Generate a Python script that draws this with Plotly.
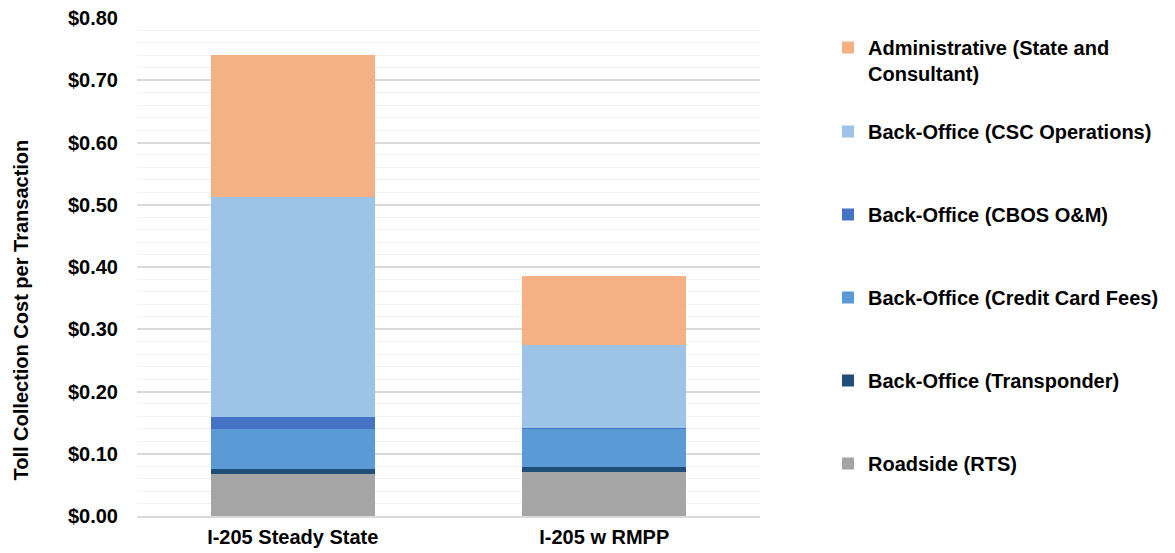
import plotly.graph_objects as go

# Cost per transaction by scenario, stacked by cost component (USD)
scenarios = ["I-205 Steady State", "I-205 w RMPP"]

roadside = [0.068, 0.070]
transponder = [0.008, 0.008]
credit_card = [0.064, 0.062]
cbos_om = [0.019, 0.001]
csc_ops = [0.353, 0.134]
administrative = [0.229, 0.111]

series_names = [
    "Roadside (RTS)",
    "Back-Office (Transponder)",
    "Back-Office (Credit Card Fees)",
    "Back-Office (CBOS O&M)",
    "Back-Office (CSC Operations)",
    "Administrative (State and<br>Consultant)",
]
series_values = [roadside, transponder, credit_card, cbos_om, csc_ops, administrative]
series_colors = ["#A5A5A5", "#1F4E79", "#5B9BD5", "#4472C4", "#9DC3E6", "#F4B183"]

# vertical pixel position of each legend entry
legend_y = [464, 381, 298, 215, 132, 48]

FONT = "Liberation Sans, Arial, sans-serif"
W, H = 1175, 553

fig = go.Figure()
layout_legends = {}
for i, (name, vals, col) in enumerate(zip(series_names, series_values, series_colors)):
    key = "legend" if i == 0 else f"legend{i + 1}"
    fig.add_trace(go.Bar(
        x=scenarios, y=vals, name=name,
        marker=dict(color=col, line=dict(width=0)),
        legend=key,
    ))
    layout_legends[key] = dict(
        xref="container", yref="container",
        x=828 / W, xanchor="left",
        y=1 - (legend_y[i] - 20) / H, yanchor="top",
        valign="top",
        bgcolor="rgba(0,0,0,0)",
        font=dict(family=FONT, size=20, color="#000000", weight="bold"),
    )

fig.update_layout(
    barmode="stack",
    bargap=0.473,
    width=W, height=H,
    margin=dict(l=137, r=415, t=18, b=37, autoexpand=False),
    plot_bgcolor="white",
    paper_bgcolor="white",
    font=dict(family=FONT, size=20, color="#000000", weight="bold"),
    showlegend=True,
    **layout_legends,
)

fig.update_yaxes(
    range=[0, 0.8],
    dtick=0.1,
    tickprefix="$",
    tickformat=".2f",
    showgrid=True,
    gridcolor="#D9D9D9",
    gridwidth=1.5,
    minor=dict(dtick=0.02, showgrid=True, gridcolor="#F2F2F2", gridwidth=1),
    zeroline=False,
    showline=False,
    ticks="",
    ticklabelstandoff=18,
    automargin=False,
    tickfont=dict(family=FONT, size=20, color="#000000", weight="bold"),
)
fig.update_xaxes(
    showline=True,
    linecolor="#D9D9D9",
    linewidth=1.5,
    ticks="",
    ticklabelstandoff=2,
    automargin=False,
    tickfont=dict(family=FONT, size=20, color="#000000", weight="bold"),
)

fig.add_annotation(
    text="Toll Collection Cost per Transaction",
    xref="paper", yref="paper",
    x=-(137 - 20) / (W - 137 - 415), y=(516.5 - 311) / 498,
    xanchor="center", yanchor="middle",
    textangle=-90, showarrow=False,
    font=dict(family=FONT, size=20, color="#000000", weight="bold"),
)

fig.write_html("out.html")
